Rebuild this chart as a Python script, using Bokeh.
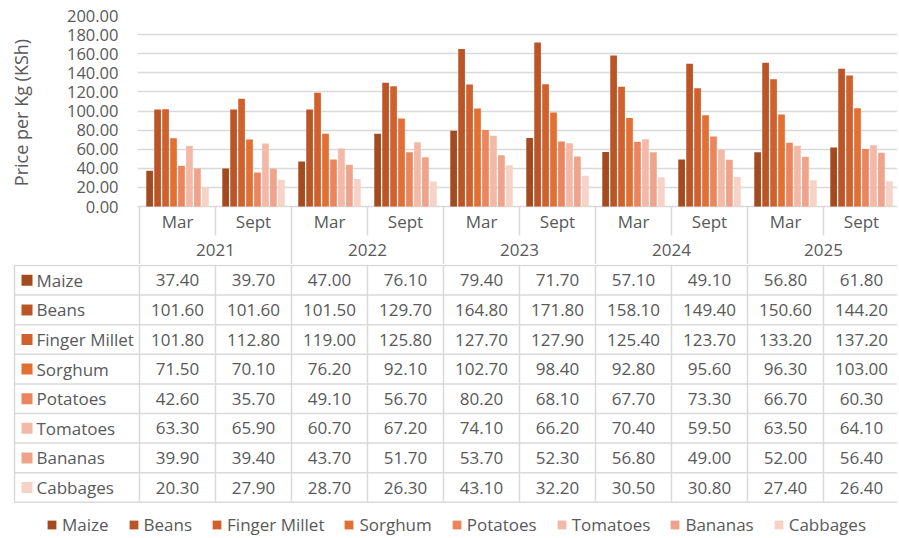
import math
from bokeh.plotting import figure
from bokeh.layouts import row
from bokeh.models import Range1d, FixedTicker, NumeralTickFormatter, Legend, LegendItem
from bokeh.core.properties import value
from bokeh.embed import file_html
from bokeh.resources import INLINE

# ---------------- data ----------------
months = ["Mar", "Sept", "Mar", "Sept", "Mar", "Sept", "Mar", "Sept", "Mar", "Sept"]
years = ["2021", "2022", "2023", "2024", "2025"]
series = ["Maize", "Beans", "Finger Millet", "Sorghum", "Potatoes", "Tomatoes", "Bananas", "Cabbages"]

maize = [37.40, 39.70, 47.00, 76.10, 79.40, 71.70, 57.10, 49.10, 56.80, 61.80]
beans = [101.60, 101.60, 101.50, 129.70, 164.80, 171.80, 158.10, 149.40, 150.60, 144.20]
finger_millet = [101.80, 112.80, 119.00, 125.80, 127.70, 127.90, 125.40, 123.70, 133.20, 137.20]
sorghum = [71.50, 70.10, 76.20, 92.10, 102.70, 98.40, 92.80, 95.60, 96.30, 103.00]
potatoes = [42.60, 35.70, 49.10, 56.70, 80.20, 68.10, 67.70, 73.30, 66.70, 60.30]
tomatoes = [63.30, 65.90, 60.70, 67.20, 74.10, 66.20, 70.40, 59.50, 63.50, 64.10]
bananas = [39.90, 39.40, 43.70, 51.70, 53.70, 52.30, 56.80, 49.00, 52.00, 56.40]
cabbages = [20.30, 27.90, 28.70, 26.30, 43.10, 32.20, 30.50, 30.80, 27.40, 26.40]

y_ticks = [0, 20, 40, 60, 80, 100, 120, 140, 160, 180, 200]
y_title = "Price per Kg (KSh)"

data = [maize, beans, finger_millet, sorghum, potatoes, tomatoes, bananas, cabbages]
colors = ["#A34A1E", "#BB5526", "#D0612D", "#E37033", "#EC855D", "#F4B9A6", "#EFA38B", "#F7D2C6"]

# ---------------- layout constants ----------------
FONT = "Open Sans"
TXT = "#595959"
GRID = "#D9D9D9"
W = 897
TW = 40            # width of the strip holding the vertical axis title
TOP = 15
ZERO = 206
CAT_MID = 235
BOTTOM = 264
LEFT = 137
P0 = 139
PW = 76.0
N = len(months)
scale = (ZERO - TOP) / 200.0
ymin = -(BOTTOM - ZERO) / scale
ycat = -(CAT_MID - ZERO) / scale
SLOT = 0.1048
BARW = 0.088
TITLE_X = 20.5
TITLE_Y = 112

# ---------------- axis-title strip ----------------
t = figure(width=TW, height=BOTTOM, x_range=Range1d(0, TW), y_range=Range1d(ymin, 200),
           output_backend="svg", toolbar_location=None,
           x_axis_location=None, y_axis_location=None,
           min_border_left=0, min_border_right=0, min_border_top=TOP, min_border_bottom=0)
t.outline_line_color = None
t.grid.visible = False
t.text(x=[TITLE_X], y=[(ZERO - TITLE_Y) / scale], text=[y_title], angle=math.pi / 2,
       text_font=value(FONT), text_font_size="18px", text_color=TXT,
       text_align="center", text_baseline="middle")

# ---------------- top figure: bars ----------------
p = figure(width=W - TW, height=BOTTOM,
           x_range=Range1d(-(P0 - LEFT) / PW, (W - P0) / PW), y_range=Range1d(ymin, 200),
           output_backend="svg", toolbar_location=None, x_axis_location=None,
           min_border_left=LEFT - TW, min_border_right=0, min_border_top=TOP, min_border_bottom=0)
p.outline_line_color = None
p.xgrid.grid_line_color = None
p.ygrid.grid_line_color = GRID
p.ygrid.grid_line_width = 1.5
p.yaxis.ticker = FixedTicker(ticks=y_ticks)
p.yaxis.formatter = NumeralTickFormatter(format="0.00")
p.yaxis.axis_line_color = None
p.yaxis.major_tick_line_color = None
p.yaxis.minor_tick_line_color = None
p.yaxis.major_label_standoff = 13
p.yaxis.major_label_text_font = FONT
p.yaxis.major_label_text_font_size = "16.5px"
p.yaxis.major_label_text_color = TXT

for k, (vals, col) in enumerate(zip(data, colors)):
    xs = [i + 0.5 + (k - 3.5) * SLOT for i in range(N)]
    p.vbar(x=xs, top=vals, bottom=0, width=BARW, fill_color=col, line_color=None)

# category box lines
x0s, y0s, x1s, y1s = [], [], [], []
for i in range(N + 1):
    x0s.append(i); x1s.append(i); y0s.append(0)
    y1s.append(ymin if i % 2 == 0 else ycat)
p.segment(x0=x0s, y0=y0s, x1=x1s, y1=y1s, line_color=GRID, line_width=1.5)

p.text(x=[i + 0.5 for i in range(N)], y=[ycat / 2] * N, text=months,
       text_font=value(FONT), text_font_size="17px", text_color=TXT,
       text_align="center", text_baseline="middle")
p.text(x=[2 * j + 1 for j in range(len(years))], y=[(ycat + ymin) / 2] * len(years), text=years,
       text_font=value(FONT), text_font_size="17px", text_color=TXT,
       text_align="center", text_baseline="middle")

# ---------------- bottom figure: data table + legend ----------------
H2 = 272
T0 = 1
ROW_H = 29.6
TL = 14
q = figure(width=W, height=H2, x_range=Range1d(0, W), y_range=Range1d(H2, 0),
           output_backend="svg", toolbar_location=None,
           x_axis_location=None, y_axis_location=None,
           min_border_left=0, min_border_right=0, min_border_top=0, min_border_bottom=0)
q.outline_line_color = None
q.grid.visible = False

nr = len(series)
hx0, hy, hx1 = [], [], []
for r in range(nr + 1):
    hx0.append(TL); hx1.append(W); hy.append(T0 + r * ROW_H)
q.segment(x0=hx0, y0=hy, x1=hx1, y1=hy, line_color=GRID, line_width=1.5)
vx = [TL] + [P0 + i * PW for i in range(N + 1)]
q.segment(x0=vx, y0=[T0] * len(vx), x1=vx, y1=[T0 + nr * ROW_H] * len(vx),
          line_color=GRID, line_width=1.5)

items = []
for r, (name, vals, col) in enumerate(zip(series, data, colors)):
    yc = T0 + (r + 0.5) * ROW_H
    rr = q.rect(x=[TL + 12.5], y=[yc], width=11, height=11, width_units="screen",
                height_units="screen", fill_color=col, line_color=None)
    items.append(LegendItem(label=name, renderers=[rr]))
    q.text(x=[TL + 22], y=[yc], text=[name], text_font=value(FONT), text_font_size="17px",
           text_color=TXT, text_align="left", text_baseline="middle")
    q.text(x=[P0 + (i + 0.5) * PW for i in range(N)], y=[yc] * N,
           text=["%.2f" % v for v in vals], text_font=value(FONT), text_font_size="17px",
           text_color=TXT, text_align="center", text_baseline="middle")

legend = Legend(items=items, orientation="horizontal", location=(46, 0),
                border_line_color=None, background_fill_alpha=0,
                label_text_font=FONT, label_text_font_size="17px", label_text_color=TXT,
                glyph_width=11, glyph_height=11, label_standoff=5, spacing=19,
                padding=0, margin=0)
q.add_layout(legend)

open("out.html", "w").write(file_html([row(t, p, spacing=0), q], INLINE))
